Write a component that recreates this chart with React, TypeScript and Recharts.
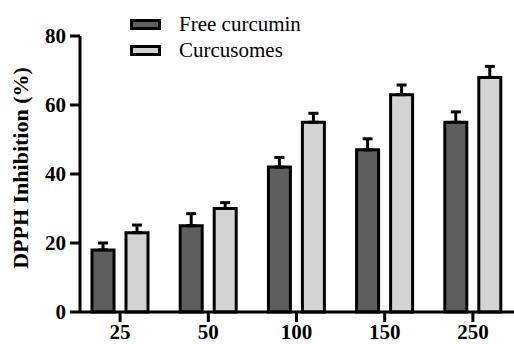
import React from "react";
import { BarChart, Bar, XAxis, YAxis, ErrorBar } from "recharts";

const doses = ["25", "50", "100", "150", "250"];
const freeCurcumin = [18, 25, 42, 47, 55];
const freeErr = [2, 3.5, 2.8, 3.2, 3];
const curcusomes = [23, 30, 55, 63, 68];
const curcErr = [2.2, 1.7, 2.6, 2.8, 3.2];
const yTicks = [0, 20, 40, 60, 80];

const series = [
  { key: "free", name: "Free curcumin", fill: "#5e5e5e" },
  { key: "curc", name: "Curcusomes", fill: "#d3d3d3" },
];

const data = doses.map((d, i) => ({
  dose: d,
  free: freeCurcumin[i],
  freeErr: [0, freeErr[i]],
  curc: curcusomes[i],
  curcErr: [0, curcErr[i]],
}));

const FONT = "'Liberation Serif', 'Times New Roman', serif";

function LegendBox() {
  return (
    <div
      style={{
        position: "absolute",
        left: 130,
        top: 11,
        fontFamily: FONT,
        fontSize: 21,
        color: "#000",
        lineHeight: "26px",
      }}
    >
      {series.map((s) => (
        <div key={s.key} style={{ display: "flex", alignItems: "center" }}>
          <span
            style={{
              display: "inline-block",
              width: 25,
              height: 5,
              background: s.fill,
              border: "3px solid #000",
              marginRight: 18,
            }}
          />
          {s.name}
        </div>
      ))}
    </div>
  );
}

export default function App() {
  const tick = { fontFamily: FONT, fontSize: 21, fontWeight: 700, fill: "#000" };
  const line = { stroke: "#000", strokeWidth: 3 };
  return (
    <div style={{ position: "absolute", left: 0, top: 0, width: 514, height: 344, overflow: "hidden", background: "#fff" }}>
      <BarChart
        width={517}
        height={344}
        data={data}
        margin={{ top: 36, right: 0, bottom: 0, left: 0 }}
        barSize={22}
        barGap={12}
      >
        <XAxis
          dataKey="dose"
          height={32}
          padding={{ left: -4, right: 0 }}
          tick={tick}
          tickSize={10}
          tickMargin={2}
          axisLine={line}
          tickLine={line}
        />
        <YAxis
          width={80}
          domain={[0, 80]}
          ticks={yTicks}
          tick={tick}
          tickSize={10}
          tickMargin={4}
          axisLine={line}
          tickLine={line}
          label={{
            value: "DPPH Inhibition (%)",
            angle: -90,
            position: "center",
            dx: -20,
            dy: -6,
            style: { fontFamily: FONT, fontSize: 22, fontWeight: 700, fill: "#000", textAnchor: "middle" },
          }}
        />
        {series.map((s) => (
          <Bar
            key={s.key}
            dataKey={s.key}
            name={s.name}
            fill={s.fill}
            stroke="#000"
            strokeWidth={3}
            isAnimationActive={false}
          >
            <ErrorBar dataKey={s.key + "Err"} width={5} stroke="#000" strokeWidth={3} />
          </Bar>
        ))}
      </BarChart>
      <LegendBox />
    </div>
  );
}
